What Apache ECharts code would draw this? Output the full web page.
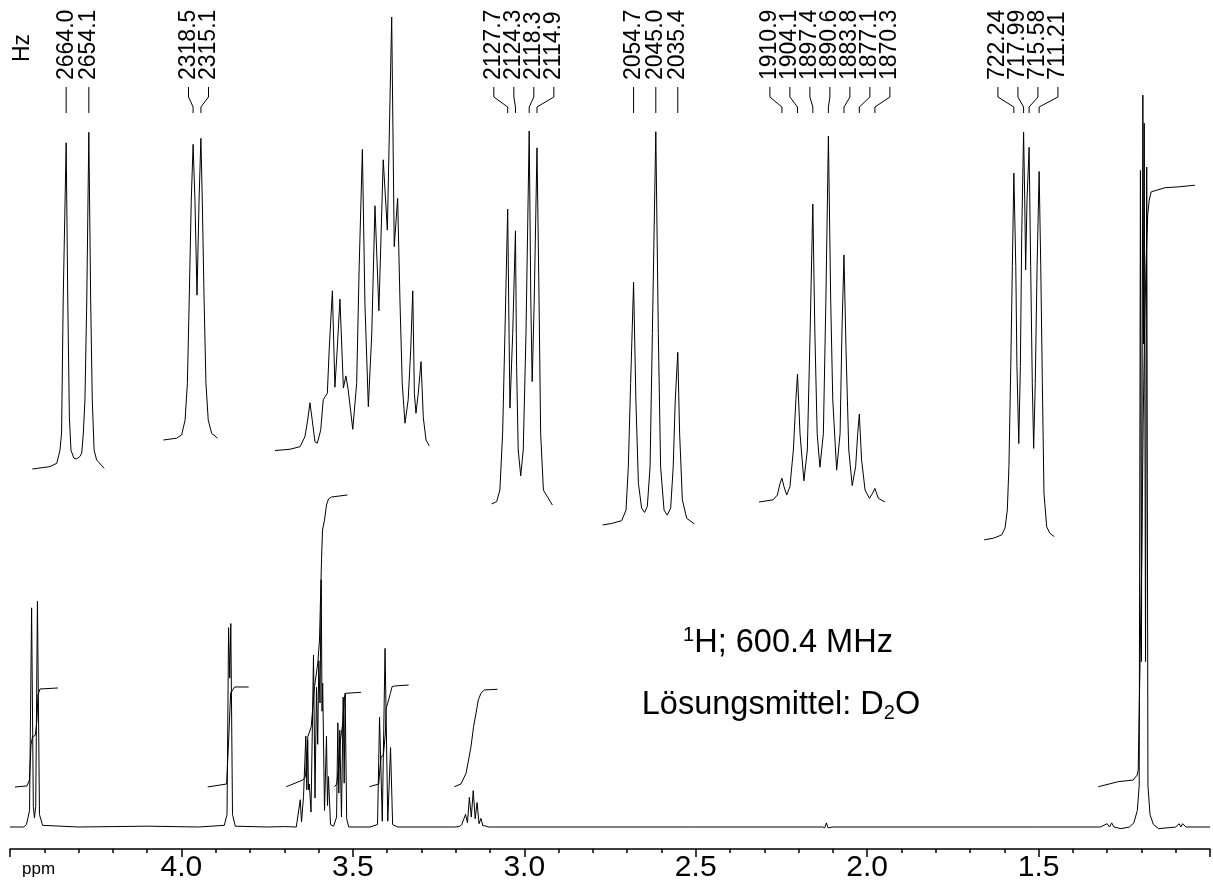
<!DOCTYPE html>
<html>
<head>
<meta charset="utf-8">
<script src="https://cdn.jsdelivr.net/npm/echarts@6/dist/echarts.min.js"></script>
<style>
  html, body { margin: 0; padding: 0; background: #fff; }
  #chart { width: 1213px; height: 890px; }
</style>
</head>
<body>
<div id="chart"></div>
<script>
// main 1H trace: [ppm, intensity]
var mainTrace = [
  [4.50, 0], [4.46, 0], [4.452, 0.3],
  [4.443, 2.0], [4.437, 26.5], [4.432, 2.5], [4.4287, 1.1], [4.425, 2.5], [4.420, 27.3], [4.414, 1.5], [4.405, 0.2],
  [4.30, 0], [4.10, 0.1], [3.95, 0],
  [3.875, 0.2], [3.867, 1.5], [3.8625, 24.1], [3.859, 18], [3.856, 24.6], [3.851, 1.5], [3.843, 0.1],
  [3.75, 0], [3.70, 0.05], [3.665, 0],
  [3.6613, 0.1], [3.6535, 3.3], [3.6497, 0.6], [3.6439, 3.7], [3.6372, 11.0], [3.6343, 4.5], [3.6317, 10.5],
  [3.6293, 4.5], [3.6270, 5.2], [3.6220, 1.8], [3.6148, 20.8], [3.6104, 3.5], [3.6060, 16.9], [3.6025, 10],
  [3.5993, 20.1], [3.5958, 15], [3.5923, 29.9], [3.590, 14], [3.5880, 17.4], [3.5827, 2], [3.5769, 11.0],
  [3.574, 2.6], [3.5711, 6.1], [3.5652, 0.3], [3.556, 0.1],
  [3.552, 0.1], [3.5475, 1.2], [3.5438, 12.6], [3.541, 4.1], [3.5382, 11.7], [3.5332, 1.2], [3.5282, 15.7],
  [3.5253, 5.3], [3.5225, 16.2], [3.518, 1.0], [3.512, 0],
  [3.45, 0], [3.428, 0.3], [3.4222, 13.3], [3.4142, 0.7], [3.4061, 21.6], [3.3981, 0.7], [3.3901, 9.6], [3.384, 0.3], [3.37, 0],
  [3.20, 0], [3.19, 0.05], [3.1827, 0.27], [3.177, 0.15], [3.1713, 1.52], [3.1657, 0.5], [3.1602, 3.58], [3.1545, 1.2],
  [3.1489, 4.4], [3.1432, 1.0], [3.1376, 2.96], [3.132, 0.4], [3.1264, 1.04], [3.121, 0.15], [3.1151, 0.15], [3.105, 0],
  [2.50, 0], [2.13, 0], [2.124, -0.1], [2.119, 0.5], [2.114, -0.1], [2.10, 0],
  [1.50, 0], [1.32, 0], [1.30, 0.4], [1.293, 0], [1.287, 0.5], [1.28, 0], [1.26, -0.2], [1.235, 0],
  [1.222, 0.5], [1.212, 2.0], [1.2065, 5], [1.2029, 79.4], [1.200, 20], [1.1958, 88.5], [1.194, 58.4], [1.1918, 85.1],
  [1.188, 20], [1.1846, 79.8], [1.181, 5], [1.175, 1.5], [1.165, 0.3], [1.15, -0.2], [1.10, 0],
  [1.09, 0.4], [1.085, 0], [1.08, 0.4], [1.07, 0], [1.00, 0]
];

// integral curves on the main axis: [ppm, height]
var integral1 = [[4.4854, 4.84], [4.4505, 4.96], [4.4432, 5.68], [4.4388, 9.92], [4.4345, 10.88], [4.4257, 11.12], [4.4214, 12.94], [4.4185, 15.96], [4.4126, 16.69], [4.3602, 16.81]];
var integral2 = [[3.9234, 4.84], [3.8681, 5.2], [3.8623, 10.52], [3.8564, 16.2], [3.8448, 16.93], [3.8040, 16.93]];
var integral3 = [[3.6942, 4.87], [3.6459, 5.68], [3.6380, 6.08], [3.6313, 10.92], [3.6214, 12.13], [3.6118, 16.96], [3.6022, 19.83], [3.5973, 22.61], [3.5944, 27.45], [3.5914, 32.29], [3.5885, 35.91], [3.5827, 37.12], [3.5769, 38.94], [3.5711, 39.66], [3.5623, 39.9], [3.5157, 40.15]];
var integral4 = [[3.5536, 4.87], [3.5469, 5.2], [3.5411, 7.3], [3.5361, 10.52], [3.5294, 12.58], [3.5245, 15.76], [3.5195, 16.17], [3.5149, 16.24], [3.4758, 16.29]];
var integral5 = [[3.4517, 4.87], [3.4246, 5.2], [3.4205, 7.3], [3.4176, 8.5], [3.4109, 8.7], [3.4051, 11.37], [3.4030, 14.35], [3.3984, 14.96], [3.3905, 16.17], [3.3856, 16.97], [3.3789, 17.05], [3.3372, 17.17]];
var integral6 = [[3.2041, 4.87], [3.1846, 5.2], [3.1700, 6.49], [3.1625, 8.1], [3.1555, 9.7], [3.1479, 12.13], [3.1409, 13.73], [3.1342, 15.36], [3.1264, 16.17], [3.1167, 16.57], [3.0780, 16.65]];
var integral7 = [[1.3258, 4.87], [1.2676, 5.48], [1.2239, 5.68], [1.2123, 6.29], [1.2094, 6.9], [1.2035, 21.4], [1.1991, 32.3], [1.1948, 49.2], [1.1904, 61.3], [1.1861, 68.6], [1.1817, 74.0], [1.1773, 75.8], [1.1715, 76.8], [1.1317, 77.3], [1.0929, 77.4], [1.0443, 77.6]];

// expansions: [Hz, relative intensity]
var inset1 = [[2678.8, 0], [2671.1, 0.7], [2668.1, 1.7], [2666.7, 5.6], [2666.0, 10.7], [2665.3, 50.2], [2664.0, 96.9], [2663.3, 50.2], [2662.6, 15.5], [2661.9, 5.6], [2660.6, 3.2], [2659.4, 3.0], [2658.0, 3.7], [2657.2, 4.7], [2656.5, 10.7], [2655.8, 20.5], [2655.0, 50.2], [2654.1, 100], [2653.3, 50.2], [2652.6, 20.5], [2651.8, 5.6], [2650.7, 2.7], [2647.4, 0.2]];
var inset2 = [[2331.5, 0], [2325.7, 0.6], [2323.5, 1.7], [2322.0, 6.6], [2321.0, 18.8], [2320.2, 46.4], [2319.3, 79.5], [2318.5, 98], [2317.7, 79.5], [2316.8, 48], [2315.9, 79.5], [2315.1, 100], [2314.5, 79.5], [2313.7, 46.4], [2312.9, 18.8], [2311.9, 6.6], [2310.4, 2.2], [2307.8, 0.6]];
var inset3 = [[2207.8, 0.1], [2201.2, 0.4], [2196.8, 1.0], [2194.7, 3.3], [2193.5, 7.1], [2192.5, 11.1], [2191.5, 7.1], [2190.3, 2.1], [2189.3, 1.8], [2187.8, 4.8], [2186.7, 11.8], [2185.9, 12.5], [2184.9, 13.3], [2184.1, 23.3], [2182.7, 36.9], [2181.6, 14.7], [2180.6, 23.3], [2179.4, 35.0], [2177.9, 14.5], [2176.8, 17.3], [2175.8, 14.1], [2173.8, 5.0], [2172.1, 15.6], [2171.0, 42.5], [2169.6, 69.5], [2168.5, 34.1], [2167.0, 10.2], [2165.5, 27.1], [2164.1, 56.5], [2162.4, 32.3], [2160.5, 67.1], [2158.7, 50.9], [2156.8, 100], [2155.7, 47.1], [2154.2, 58.2], [2153.2, 34.8], [2152.2, 15.6], [2151.0, 6.4], [2149.6, 11.8], [2148.5, 23.3], [2147.6, 36.9], [2146.9, 13.3], [2146.2, 8.7], [2145.2, 13.3], [2144.0, 20.6], [2143.0, 7.7], [2141.8, 2.5], [2140.4, 1.2]];
var inset4 = [[2134.7, 0.3], [2132.5, 0.9], [2131.1, 4.0], [2129.9, 19.2], [2128.9, 45.9], [2127.7, 79.1], [2127.1, 45.9], [2126.7, 25.9], [2125.5, 45.9], [2124.3, 73.3], [2123.8, 37.0], [2123.1, 14.7], [2122.0, 7.8], [2120.9, 14.7], [2119.7, 45.9], [2118.3, 100], [2117.6, 54.8], [2117.0, 33.0], [2116.1, 54.8], [2114.9, 95.5], [2114.0, 54.8], [2113.3, 19.2], [2112.1, 4.0], [2108.2, 0]];
var inset5 = [[2068.2, 0], [2064.3, 0.4], [2059.9, 1.1], [2058.0, 3.8], [2057.0, 14.8], [2056.0, 36.0], [2054.7, 61.7], [2053.7, 31.8], [2052.6, 10.6], [2051.2, 4.3], [2049.9, 3.2], [2048.7, 4.7], [2047.5, 14.8], [2046.5, 48.7], [2045.0, 100], [2043.9, 48.7], [2042.9, 14.8], [2041.4, 3.8], [2040.0, 2.5], [2038.5, 4.3], [2037.4, 14.8], [2036.5, 31.8], [2035.4, 43.9], [2034.6, 23.3], [2033.4, 6.4], [2031.5, 1.7], [2028.2, 0.3]];
var inset6 = [[1920.9, 0], [1914.7, 0.6], [1912.9, 1.9], [1911.7, 5.1], [1910.9, 6.5], [1910.0, 4.2], [1908.8, 1.9], [1907.4, 4.2], [1905.9, 14.2], [1904.8, 27.9], [1904.1, 34.9], [1903.0, 18.7], [1901.3, 5.8], [1899.8, 14.2], [1898.6, 46.1], [1897.4, 81.4], [1896.5, 46.1], [1895.5, 18.7], [1894.3, 9.5], [1892.8, 18.7], [1891.7, 55.2], [1890.6, 100], [1889.6, 55.2], [1888.7, 27.9], [1887.0, 8.7], [1885.5, 18.7], [1884.7, 46.1], [1883.8, 67.5], [1882.9, 41.5], [1881.7, 14.2], [1880.2, 4.5], [1878.7, 9.7], [1877.8, 18.7], [1877.1, 24.0], [1876.1, 11.5], [1874.6, 3.3], [1872.7, 1.0], [1871.3, 2.4], [1870.3, 3.7], [1868.8, 1.0], [1865.9, 0]];
var inset7 = [[735.2, -0.7], [731.2, -0.3], [727.6, 0.5], [726.1, 2.2], [725.1, 6.7], [724.4, 17.4], [723.6, 42.1], [722.9, 66.8], [722.24, 89.9], [721.4, 66.8], [720.9, 42.1], [720.1, 23.1], [719.4, 42.1], [718.8, 75.0], [717.99, 100], [717.5, 83.3], [717.1, 66.0], [716.5, 83.3], [715.58, 96.3], [714.9, 66.8], [714.2, 38.0], [713.6, 21.9], [712.9, 38.0], [712.1, 66.8], [711.21, 90.3], [710.5, 66.8], [709.8, 38.0], [709.1, 10.8], [707.9, 2.5], [706.5, 0.9], [704.6, 0.1]];

// peak picking labels (Hz) for each expansion
var peakLabels = [
  ["2664.0", "2654.1"],
  ["2318.5", "2315.1"],
  [],
  ["2127.7", "2124.3", "2118.3", "2114.9"],
  ["2054.7", "2045.0", "2035.4"],
  ["1910.9", "1904.1", "1897.4", "1890.6", "1883.8", "1877.1", "1870.3"],
  ["722.24", "717.99", "715.58", "711.21"]
];

var insets = [inset1, inset2, inset3, inset4, inset5, inset6, inset7];
var integrals = [integral1, integral2, integral3, integral4, integral5, integral6, integral7];

var FONT = "Liberation Sans, Arial, Helvetica, sans-serif";
var PX_PER_HZ = 2.29;
// [hzMin, hzMax, anchorHz, anchorX, top, bottom]
var insetBox = [
  [2647, 2679, 2659.05, 77.5, 132.3, 469],
  [2307.7, 2331.6, 2316.8, 197, 138.3, 440],
  [2140, 2208, 2156.8, 391.7, 17, 451],
  [2108, 2135, 2118.3, 529.2, 131, 505],
  [2028, 2068.2, 2045.0, 655.8, 131.7, 525],
  [1865.8, 1921, 1890.6, 828.4, 136, 502],
  [704.5, 735.2, 716.725, 1026.5, 132.3, 537]
];

var chart = echarts.init(document.getElementById("chart"));

var grids = [{ left: 10, right: 0, top: 0, bottom: 41 }];
var xAxes = [{
  type: "value", gridIndex: 0, min: 1.0, max: 4.5, interval: 0.5, inverse: true,
  axisLine: { onZero: false, lineStyle: { color: "#000", width: 1.5 } },
  axisTick: { length: 8, lineStyle: { color: "#000", width: 1.5 } },
  minorTick: { show: true, splitNumber: 5, length: 4, lineStyle: { color: "#000", width: 1.5 } },
  splitLine: { show: false },
  axisLabel: {
    margin: 4, color: "#000", fontSize: 30, fontFamily: FONT,
    formatter: function (v) {
      if (Math.abs(v - 4.5) < 1e-6 || Math.abs(v - 1.0) < 1e-6) return "";
      return v.toFixed(1);
    }
  }
}];
var yAxes = [{ type: "value", gridIndex: 0, min: -2.66, max: 100, show: false }];
var series = [{
  type: "line", xAxisIndex: 0, yAxisIndex: 0, data: mainTrace, showSymbol: false, clip: false,
  lineStyle: { color: "#000", width: 1 }
}];
integrals.forEach(function (d) {
  series.push({
    type: "line", xAxisIndex: 0, yAxisIndex: 0, data: d, showSymbol: false, clip: false,
    lineStyle: { color: "#000", width: 1 }
  });
});

insetBox.forEach(function (b, i) {
  var left = b[3] - (b[1] - b[2]) * PX_PER_HZ;
  grids.push({ left: left, top: b[4], width: (b[1] - b[0]) * PX_PER_HZ, height: b[5] - b[4] });
  xAxes.push({ type: "value", gridIndex: i + 1, min: b[0], max: b[1], inverse: true, show: false });
  yAxes.push({ type: "value", gridIndex: i + 1, min: 0, max: 100, show: false });
  series.push({
    type: "line", xAxisIndex: i + 1, yAxisIndex: i + 1, data: insets[i], showSymbol: false, clip: false,
    lineStyle: { color: "#000", width: 1 }
  });
});

var option = {
  backgroundColor: "#fff",
  animation: false,
  grid: grids,
  xAxis: xAxes,
  yAxis: yAxes,
  series: series
};
chart.setOption(option);

// peak labels, connectors and texts
var graphics = [];
var LABEL_GAP = 20;
peakLabels.forEach(function (labels, i) {
  if (!labels.length) return;
  var px = labels.map(function (t) {
    return chart.convertToPixel({ gridIndex: i + 1 }, [parseFloat(t), 0])[0];
  });
  var minGap = Infinity;
  for (var k = 1; k < px.length; k++) minGap = Math.min(minGap, Math.abs(px[k] - px[k - 1]));
  var lx = px.slice();
  if (minGap < LABEL_GAP) {
    var mean = px.reduce(function (a, c) { return a + c; }, 0) / px.length;
    lx = px.map(function (p, k) { return mean + 1.5 + (k - (px.length - 1) / 2) * LABEL_GAP; });
  }
  labels.forEach(function (t, k) {
    graphics.push({
      type: "text", x: lx[k], y: 80, rotation: Math.PI / 2,
      style: { text: t, fontSize: 23, fontFamily: FONT, fill: "#000", align: "left", verticalAlign: "middle" }
    });
    graphics.push({
      type: "polyline",
      shape: { points: [[lx[k], 87], [lx[k], 97], [px[k], 107], [px[k], 113]] },
      style: { stroke: "#000", lineWidth: 1, fill: null }
    });
  });
});
graphics.push({
  type: "text", x: 22.5, y: 62, rotation: Math.PI / 2,
  style: { text: "Hz", fontSize: 23, fontFamily: FONT, fill: "#000", align: "left", verticalAlign: "middle" }
});
graphics.push({
  type: "text", x: 22, y: 869,
  style: { text: "ppm", fontSize: 17, fontFamily: FONT, fill: "#000", align: "left", verticalAlign: "middle" }
});
graphics.push({
  type: "text", x: 788, y: 643,
  style: {
    text: "{s|1}{n|H; 600.4 MHz}", align: "center", verticalAlign: "middle", fill: "#000",
    rich: {
      s: { fontSize: 20, fontFamily: FONT, verticalAlign: "top", lineHeight: 36 },
      n: { fontSize: 32.5, fontFamily: FONT, lineHeight: 36 }
    }
  }
});
graphics.push({
  type: "text", x: 781, y: 705,
  style: {
    text: "{n|Lösungsmittel: D}{s|2}{n|O}", align: "center", verticalAlign: "middle", fill: "#000",
    rich: {
      n: { fontSize: 32.5, fontFamily: FONT, lineHeight: 36 },
      s: { fontSize: 20, fontFamily: FONT, verticalAlign: "bottom", lineHeight: 36 }
    }
  }
});
chart.setOption({ graphic: graphics });
</script>
</body>
</html>
